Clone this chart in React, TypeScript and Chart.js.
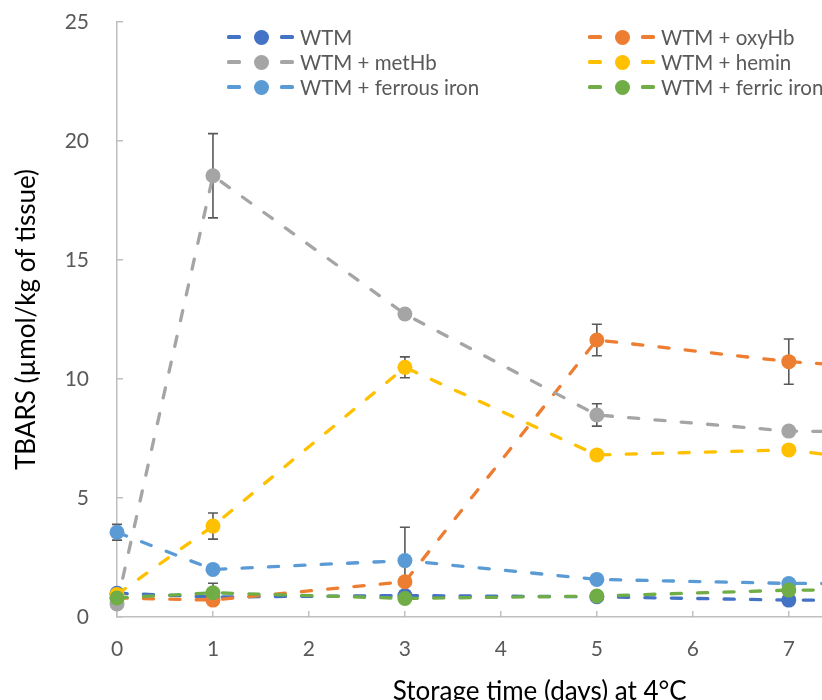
import React, { useEffect, useRef } from "react";
import { Chart, registerables } from "chart.js";

Chart.register(...registerables);

// ---- data ----
const days = [0, 1, 3, 5, 7, 9];
const xTickValues = [0, 1, 2, 3, 4, 5, 6, 7];
const yTickValues = [0, 5, 10, 15, 20, 25];

const seriesNames = [
  "WTM",
  "WTM + oxyHb",
  "WTM + metHb",
  "WTM + hemin",
  "WTM + ferrous iron",
  "WTM + ferric iron",
];
const seriesColors = ["#4472C4", "#ED7D31", "#A5A5A5", "#FFC000", "#5B9BD5", "#70AD47"];

const wtm = [1.0, 0.84, 0.9, 0.85, 0.71, 0.7];
const oxyHb = [0.8, 0.71, 1.48, 11.64, 10.73, 10.2];
const metHb = [0.55, 18.54, 12.73, 8.49, 7.81, 7.75];
const hemin = [0.95, 3.82, 10.49, 6.81, 7.02, 6.0];
const ferrous = [3.56, 2.0, 2.37, 1.58, 1.41, 1.4];
const ferric = [0.8, 1.02, 0.78, 0.88, 1.13, 1.15];

const wtmErr = [0, 0, 0, 0, 0, 0];
const oxyHbErr = [0, 0, 0, 0.66, 0.95, 0];
const metHbErr = [0, 1.77, 0, 0.47, 0, 0];
const heminErr = [0, 0.55, 0.44, 0, 0, 0];
const ferrousErr = [0.33, 0, 1.4, 0, 0, 0];
const ferricErr = [0, 0.4, 0, 0, 0, 0];

const seriesValues = [wtm, oxyHb, metHb, hemin, ferrous, ferric];
const seriesErrors = [wtmErr, oxyHbErr, metHbErr, heminErr, ferrousErr, ferricErr];

const xTitle = "Storage time (days) at 4°C";
const yTitle = "TBARS (µmol/kg of tissue)";

// ---- style ----
const FONT = "Lato, 'Open Sans', sans-serif";
const AXIS_COLOR = "#BFBFBF";
const TEXT_COLOR = "#595959";
const CANVAS_W = 970;
const CANVAS_H = 720;

const errorBarPlugin = {
  id: "errorBars",
  beforeDatasetsDraw(chart: any) {
    const ctx = chart.ctx;
    const yScale = chart.scales.y;
    ctx.save();
    ctx.strokeStyle = "#595959";
    ctx.lineWidth = 1.6;
    chart.data.datasets.forEach((ds: any, i: number) => {
      const meta = chart.getDatasetMeta(i);
      const errs: number[] = ds.errors || [];
      meta.data.forEach((pt: any, j: number) => {
        const e = errs[j];
        if (!e) return;
        const v = ds.data[j].y;
        const x = pt.x;
        const yt = yScale.getPixelForValue(v + e);
        const yb = yScale.getPixelForValue(v - e);
        ctx.beginPath();
        ctx.moveTo(x, yt);
        ctx.lineTo(x, yb);
        ctx.moveTo(x - 5, yt);
        ctx.lineTo(x + 5, yt);
        ctx.moveTo(x - 5, yb);
        ctx.lineTo(x + 5, yb);
        ctx.stroke();
      });
    });
    ctx.restore();
  },
};

function LegendItem({ name, color, left, top }: { name: string; color: string; left: number; top: number }) {
  const dash = (l: number) => (
    <div
      style={{
        position: "absolute",
        left: left + l,
        top: top - 1.6,
        width: 14,
        height: 3.2,
        background: color,
        borderRadius: 1.6,
      }}
    />
  );
  return (
    <>
      {dash(0)}
      <div
        style={{
          position: "absolute",
          left: left + 26.5,
          top: top - 7.5,
          width: 15,
          height: 15,
          borderRadius: "50%",
          background: color,
        }}
      />
      {dash(53)}
      <div
        style={{
          position: "absolute",
          left: left + 73,
          top: top - 13,
          height: 26,
          lineHeight: "26px",
          fontFamily: FONT,
          fontSize: 20.5,
          color: TEXT_COLOR,
          whiteSpace: "nowrap",
        }}
      >
        {name}
      </div>
    </>
  );
}

export default function App() {
  const canvasRef = useRef<HTMLCanvasElement | null>(null);

  useEffect(() => {
    const canvas = canvasRef.current;
    if (!canvas) return;
    const chart = new Chart(canvas, {
      type: "line",
      data: {
        datasets: seriesNames.map((name, i) => ({
          label: name,
          data: days.map((d, j) => ({ x: d, y: seriesValues[i][j] })),
          errors: seriesErrors[i],
          borderColor: seriesColors[i],
          backgroundColor: seriesColors[i],
          pointBackgroundColor: seriesColors[i],
          pointBorderWidth: 0,
          pointRadius: 7.5,
          pointHoverRadius: 7.5,
          borderWidth: 3.3,
          borderDash: [10.2, 16.2],
          borderCapStyle: "round",
          tension: 0,
          clip: false,
          order: seriesNames.length - i,
        })) as any,
      },
      options: {
        animation: false,
        responsive: false,
        events: [],
        layout: { padding: { top: 22, left: 0, right: 0, bottom: 0 } },
        plugins: { legend: { display: false }, tooltip: { enabled: false } },
        scales: {
          x: {
            type: "linear",
            min: 0,
            max: 8.81,
            afterBuildTicks: (s: any) => {
              s.ticks = xTickValues.map((v) => ({ value: v }));
            },
            afterFit: (s: any) => {
              s.height = 103;
              s.paddingLeft = 0;
              s.paddingRight = 0;
            },
            ticks: { font: { family: FONT, size: 21 }, color: TEXT_COLOR, padding: 26 },
            grid: {
              display: true,
              drawOnChartArea: false,
              drawTicks: true,
              tickLength: -6,
              color: AXIS_COLOR,
              lineWidth: 1.5,
            },
            border: { display: true, color: AXIS_COLOR, width: 1.5 },
            title: {
              display: true,
              text: xTitle,
              font: { family: FONT, size: 26 },
              color: "#000000",
              padding: { top: 0, bottom: 13 },
            },
          },
          y: {
            type: "linear",
            min: 0,
            max: 25,
            afterBuildTicks: (s: any) => {
              s.ticks = yTickValues.map((v) => ({ value: v }));
            },
            afterFit: (s: any) => {
              s.width = 117;
              s.paddingTop = 0;
              s.paddingBottom = 0;
            },
            ticks: { font: { family: FONT, size: 21 }, color: TEXT_COLOR, padding: 34 },
            grid: {
              display: true,
              drawOnChartArea: false,
              drawTicks: true,
              tickLength: -6,
              color: AXIS_COLOR,
              lineWidth: 1.5,
            },
            border: { display: true, color: AXIS_COLOR, width: 1.5 },
            title: {
              display: true,
              text: yTitle,
              font: { family: FONT, size: 26 },
              color: "#000000",
              padding: { top: 11, bottom: 0 },
            },
          },
        },
      } as any,
      plugins: [errorBarPlugin],
    });
    return () => chart.destroy();
  }, []);

  return (
    <div
      style={{
        position: "fixed",
        left: 0,
        top: 0,
        width: CANVAS_W,
        height: CANVAS_H,
        background: "#ffffff",
      }}
    >
      <canvas
        ref={canvasRef}
        width={CANVAS_W}
        height={CANVAS_H}
        style={{ width: CANVAS_W, height: CANVAS_H, display: "block" }}
      />
      {seriesNames.map((name, i) => (
        <LegendItem
          key={name}
          name={name}
          color={seriesColors[i]}
          left={i % 2 === 0 ? 227 : 588}
          top={37 + Math.floor(i / 2) * 25}
        />
      ))}
    </div>
  );
}
